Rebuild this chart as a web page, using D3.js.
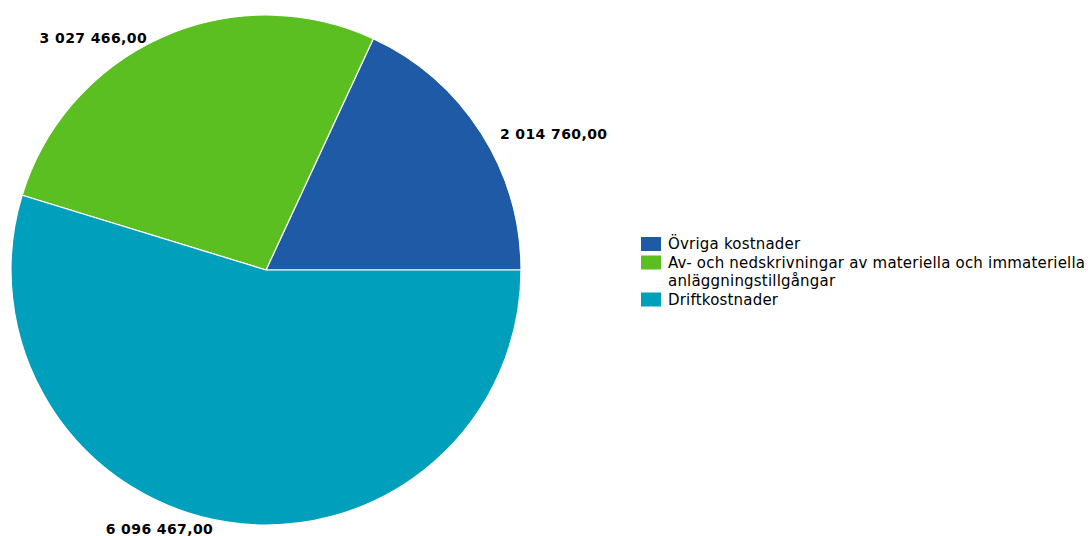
<!DOCTYPE html>
<html>
<head>
<meta charset="utf-8">
<script src="https://cdn.jsdelivr.net/npm/d3@7"></script>
<style>
  body { margin: 0; background: #fff; }
  svg text { font-family: "DejaVu Sans", Verdana, sans-serif; fill: #000; }
</style>
</head>
<body>
<div id="chart"></div>
<script>
// Slice data, in the order they are drawn (counterclockwise from 3 o'clock)
const categories = ["Övriga kostnader", "Av- och nedskrivningar av materiella och immateriella anläggningstillgångar", "Driftkostnader"];
const legendLines = [["Övriga kostnader"], ["Av- och nedskrivningar av materiella och immateriella", "anläggningstillgångar"], ["Driftkostnader"]];
const values = [2014760.00, 3027466.00, 6096467.00];
const colors = ["#1f5aa6", "#5cbf21", "#00a0bc"];

const width = 1088, height = 536;
const cx = 266, cy = 270, radius = 255;

const svg = d3.select("#chart").append("svg")
  .attr("width", width)
  .attr("height", height);

// Pie goes counterclockwise, starting at 3 o'clock
const pie = d3.pie()
  .sort(null)
  .startAngle(Math.PI / 2)
  .endAngle(Math.PI / 2 - 2 * Math.PI);

const arc = d3.arc().innerRadius(0).outerRadius(radius);
const arcs = pie(values);

const g = svg.append("g").attr("transform", `translate(${cx},${cy})`);

g.selectAll("path")
  .data(arcs)
  .enter().append("path")
  .attr("d", arc)
  .attr("fill", (d, i) => colors[i])
  .attr("stroke", "#fff")
  .attr("stroke-width", 1.2);

// Value labels at the rim, pushed out sideways
const fmt = v => d3.format(",.2f")(v).replace(/,/g, " ").replace(".", ",");
g.selectAll("text.value")
  .data(arcs)
  .enter().append("text")
  .attr("class", "value")
  .each(function(d) {
    const a = (d.startAngle + d.endAngle) / 2;
    const x = Math.sin(a) * radius;
    const y = -Math.cos(a) * radius;
    const right = x > 0;
    d3.select(this)
      .attr("x", x + (right ? 19 : -15))
      .attr("y", y + (y > radius * 0.9 ? 6 : 0) + 1)
      .attr("dy", "0.35em")
      .attr("text-anchor", right ? "start" : "end");
  })
  .style("font-size", "14px")
  .style("font-weight", "bold")
  .style("letter-spacing", "0.4px")
  .text(d => fmt(d.data));

// Legend
const legend = svg.append("g").attr("transform", "translate(641,237)");
const lineH = 18.5;
let row = 0;
legendLines.forEach((lines, i) => {
  const item = legend.append("g").attr("transform", `translate(0,${row * lineH})`);
  item.append("rect")
    .attr("width", 20)
    .attr("height", 14)
    .attr("fill", colors[i]);
  lines.forEach((t, j) => {
    item.append("text")
      .attr("x", 27)
      .attr("y", j * lineH + 7)
      .attr("dy", "0.35em")
      .style("font-size", "15px")
      .style("letter-spacing", "0.2px")
      .text(t);
  });
  row += lines.length;
});
</script>
</body>
</html>
